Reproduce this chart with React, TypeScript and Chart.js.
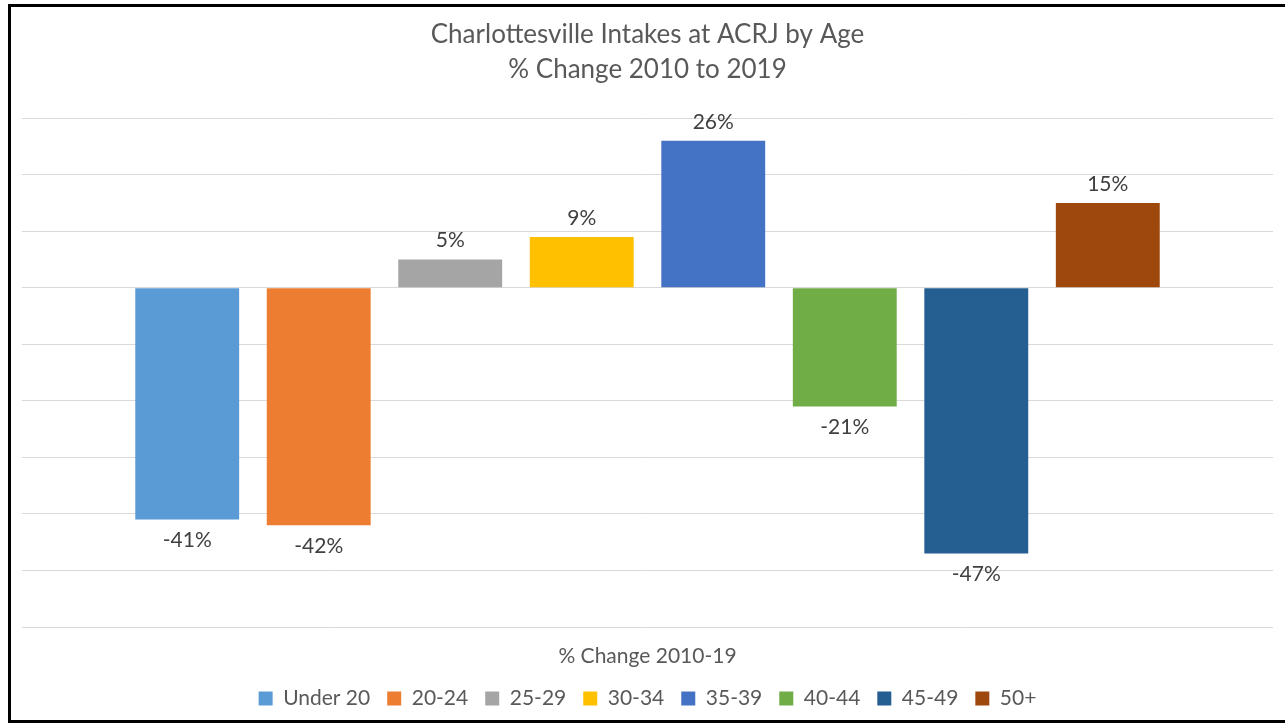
import React, { useEffect, useRef } from "react";
import { Chart, registerables } from "chart.js";

Chart.register(...registerables);

const categories = ["% Change 2010-19"];
const seriesNames = ["Under 20", "20-24", "25-29", "30-34", "35-39", "40-44", "45-49", "50+"];
const seriesValues = [-41, -42, 5, 9, 26, -21, -47, 15];
const seriesColors = ["#5B9BD5", "#ED7D31", "#A5A5A5", "#FFC000", "#4472C4", "#70AD47", "#255E91", "#9E480E"];
const titleLines = ["Charlottesville Intakes at ACRJ by Age", "% Change 2010 to 2019"];
const yMin = -60;
const yMax = 30;
const yStep = 10;

const FONT = "Lato, 'Open Sans', sans-serif";

const valueLabels = {
  id: "valueLabels",
  afterDatasetsDraw(chart: any) {
    const ctx = chart.ctx;
    ctx.save();
    ctx.font = `21px ${FONT}`;
    ctx.fillStyle = "#404040";
    ctx.textAlign = "center";
    ctx.textBaseline = "middle";
    chart.data.datasets.forEach((ds: any, i: number) => {
      const meta = chart.getDatasetMeta(i);
      meta.data.forEach((bar: any, j: number) => {
        const v = ds.data[j];
        const y = v >= 0 ? bar.y - 19 : bar.y + 21;
        ctx.fillText(`${v}%`, bar.x, y);
      });
    });
    ctx.restore();
  },
};

export default function App() {
  const ref = useRef<HTMLCanvasElement | null>(null);
  useEffect(() => {
    document.documentElement.style.overflow = "hidden";
    if (!ref.current) return;
    const chart = new Chart(ref.current, {
      type: "bar",
      data: {
        labels: categories,
        datasets: seriesNames.map((name, i) => ({
          label: name,
          data: [seriesValues[i]],
          backgroundColor: seriesColors[i],
          borderWidth: 0,
          categoryPercentage: 0.841,
          barPercentage: 0.79,
        })),
      },
      options: {
        responsive: false,
        animation: false,
        layout: { padding: { left: 11, right: 17, top: 0, bottom: 1 } },
        plugins: {
          title: {
            display: true,
            text: titleLines,
            color: "#595959",
            font: { family: FONT, size: 26, weight: "normal", lineHeight: 1.35 },
            padding: { top: 10, bottom: 31 },
          },
          legend: {
            position: "bottom",
            labels: {
              color: "#595959",
              font: { family: FONT, size: 21 },
              boxWidth: 14,
              boxHeight: 14,
              padding: 17,
            },
          },
          tooltip: { enabled: false },
        },
        scales: {
          x: {
            grid: { display: false, drawTicks: false },
            border: { display: false },
            ticks: { color: "#595959", font: { family: FONT, size: 21 }, padding: 17 },
            afterFit: (scale: any) => {
              scale.height = 44;
            },
          },
          y: {
            min: yMin,
            max: yMax,
            ticks: { display: false, stepSize: yStep },
            grid: { color: "#d9d9d9", lineWidth: 1, drawTicks: false },
            border: { display: false },
          },
        },
      },
      plugins: [valueLabels],
    });
    return () => chart.destroy();
  }, []);
  return (
    <div
      style={{
        position: "fixed",
        left: 8,
        top: 4,
        width: 1285,
        height: 719,
        border: "3px solid #000",
        boxSizing: "border-box",
        background: "#fff",
        overflow: "hidden",
      }}
    >
      <canvas ref={ref} width={1279} height={713} style={{ display: "block" }} />
    </div>
  );
}
